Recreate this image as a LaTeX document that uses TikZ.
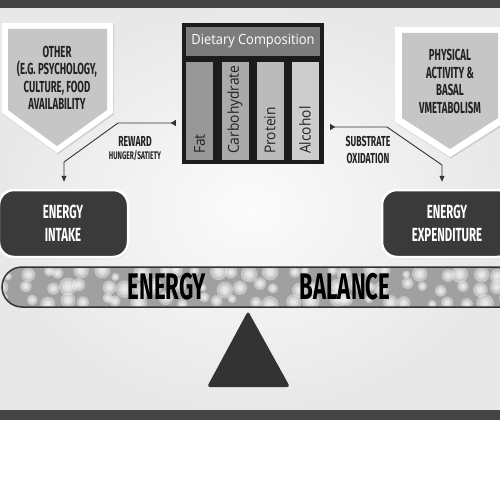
\documentclass[tikz,border=0pt]{standalone}
\usepackage{fontspec}
\usetikzlibrary{arrows.meta,calc,shadows}
\newfontfamily\cond[FakeStretch=0.6]{Fira Sans}
\newfontfamily\myr[FakeStretch=0.92]{Open Sans}
\definecolor{band}{HTML}{444444}
\definecolor{boxdark}{HTML}{3A3A3A}
\definecolor{pentfill}{HTML}{C6C6C6}
\definecolor{dietbg}{HTML}{1C1C1C}
\definecolor{dhead}{HTML}{7C7C7C}
\definecolor{cfat}{HTML}{989898}
\definecolor{ccarb}{HTML}{AAAAAA}
\definecolor{cprot}{HTML}{BBBBBB}
\definecolor{calc}{HTML}{CDCDCD}
\definecolor{barfill}{HTML}{A0A0A0}
\definecolor{linec}{HTML}{333333}
\definecolor{txt}{HTML}{222222}
\tikzset{
  pent/.style={fill=white, drop shadow={opacity=0.25, shadow xshift=1pt, shadow yshift=-1.5pt}},
  pentin/.style={fill=pentfill},
  penttext/.style={font=\cond\bfseries\fontsize{16}{17.5}\selectfont, text=txt, align=center},
  ebox/.style={rectangle, rounded corners=15pt, fill=boxdark, draw=white, line width=2.5pt,
    drop shadow={opacity=0.25, shadow xshift=1pt, shadow yshift=-1.5pt}},
  etext/.style={font=\cond\bfseries\fontsize{19}{23}\selectfont, text=white, align=center},
  col/.style={rectangle, minimum width=27pt, minimum height=98pt, inner sep=0pt},
  coltext/.style={rotate=90, anchor=west, font=\myr\fontsize{15}{17}\selectfont, text=txt, inner sep=1pt},
  conn/.style={draw=linec, line width=0.9pt, {Triangle[reversed,length=5pt,width=6pt]}-{Triangle[length=6pt,width=5pt]}},
  lab/.style={font=\cond\bfseries\fontsize{14.5}{16}\selectfont, text=txt},
  labs/.style={font=\cond\bfseries\fontsize{11}{12}\selectfont, text=txt},
  bigtext/.style={font=\cond\bfseries\fontsize{37}{38}\selectfont, text=black},
  bubble/.style={fill=white, opacity=0.38}
}
\begin{document}
\begin{tikzpicture}[x=1pt,y=-1pt]
\useasboundingbox (0,0) rectangle (500,500);
\clip (0,0) rectangle (500,500);
% background
\fill[white] (0,0) rectangle (500,500);
\shade[inner color=white!97!gray, outer color=white!82!gray] (0,8) rectangle (500,410);
\fill[band] (0,0) rectangle (500,8);
\fill[band] (0,410) rectangle (500,420);

% left pentagon
\path[pent] (2,23) -- (113,23) -- (113,113) -- (57,153) -- (2,113) -- cycle;
\fill[pentin] (8,29) -- (107,29) -- (107,110) -- (57,146) -- (8,110) -- cycle;
\node[penttext] (other) at (57,78) {OTHER\\(E.G. PSYCHOLOGY,\\CULTURE, FOOD\\AVAILABILITY};

% right pentagon
\path[pent] (395,27) -- (505,27) -- (505,122) -- (450,157) -- (395,122) -- cycle;
\fill[pentin] (402,33) -- (498,33) -- (498,118) -- (450,149) -- (402,118) -- cycle;
\node[penttext] (phys) at (450,81.5) {PHYSICAL\\ACTIVITY \&\\BASAL\\VMETABOLISM};

% dietary composition
\node[rectangle, fill=dietbg, minimum width=142pt, minimum height=141pt, inner sep=0pt] (diet) at (253,93.5) {};
\node[rectangle, fill=dhead, minimum width=134pt, minimum height=29pt, inner sep=0pt,
  font=\myr\fontsize{14}{16}\selectfont, text=white] (dhead) at (253,41.5) {Dietary Composition};
\node[col, fill=cfat] (fat) at (199.5,111) {};
\node[col, fill=ccarb] (carb) at (235,111) {};
\node[col, fill=cprot] (prot) at (270,111) {};
\node[col, fill=calc] (alc) at (305,111) {};
\node[coltext] (tfat) at (199.5,155) {Fat};
\node[coltext] (tcarb) at (235,155) {Carbohydrate};
\node[coltext] (tprot) at (270,155) {Protein};
\node[coltext] (talc) at (305,155) {Alcohol};

% energy boxes
\node[ebox, minimum width=129pt, minimum height=67pt] (intake) at (63.5,223.5) {};
\node[etext] (tintake) at (63,223.5) {ENERGY\\INTAKE};
\node[ebox, minimum width=130pt, minimum height=67pt] (expend) at (447,223.5) {};
\node[etext] (texpend) at (447,223.5) {ENERGY\\EXPENDITURE};

% connectors
\coordinate (l1) at (118,123);
\coordinate (l2) at (64,162);
\coordinate (r1) at (387,127);
\coordinate (r2) at (442,165);
\draw[conn, shorten >=7pt] ($(diet.west)+(-6,29.5)$) -- (l1) -- (l2) -- (l2 |- intake.north);
\draw[conn, shorten >=7pt] ($(diet.east)+(6,33.5)$) -- (r1) -- (r2) -- (r2 |- expend.north);
\node[lab] (reward) at (135,141) {REWARD};
\node[labs] (hunger) at (135,156) {HUNGER/SATIETY};
\node[lab] (subst) at (368,141) {SUBSTRATE};
\node[lab] (oxid) at (368,158) {OXIDATION};

% balance bar
\begin{scope}
\clip[rounded corners=20pt] (2,267) rectangle (560,307);
\fill[barfill] (0,260) rectangle (560,315);
\pgfmathsetseed{5}
\foreach \gx in {0,19,...,520}{
  \foreach \gy in {273,287,301}{
    \pgfmathsetmacro\bx{\gx+rnd*16}
    \pgfmathsetmacro\by{\gy+(rnd-0.5)*8}
    \pgfmathsetmacro\br{4+rnd*5}
    \fill[bubble] (\bx,\by) circle[radius=\br];
    \fill[bubble] (\bx,\by) circle[radius=0.65*\br];
    \fill[bubble] (\bx,\by) circle[radius=0.35*\br];
  }
}
\end{scope}
\draw[line width=1.5pt, draw=linec, rounded corners=20pt] (2,267) rectangle (560,307);
\node[bigtext] (energy) at (167,287) {ENERGY};
\node[bigtext] (balance) at (345,287) {BALANCE};

% fulcrum
\fill[linec, rounded corners=3pt] (248,311) -- (290,387) -- (207,387) -- cycle;
\end{tikzpicture}
\end{document}
